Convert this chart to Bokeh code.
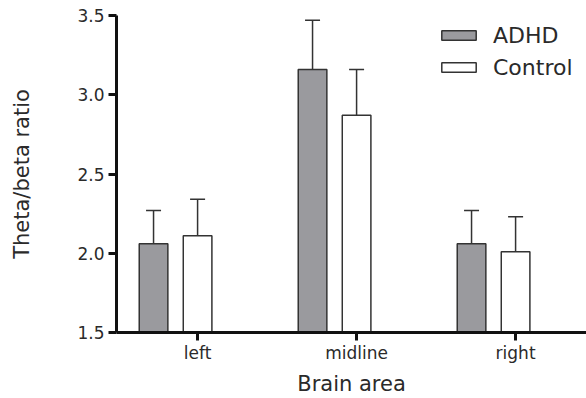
from bokeh.plotting import figure
from bokeh.models import (ColumnDataSource, Range1d, FixedTicker, Whisker, TeeHead,
                          Legend, LegendItem, CustomJSTickFormatter)
from bokeh.embed import file_html
from bokeh.resources import INLINE

categories = ["left", "midline", "right"]
adhd_mean = [2.06, 3.16, 2.06]
adhd_err = [0.21, 0.31, 0.21]
control_mean = [2.11, 2.87, 2.01]
control_err = [0.23, 0.29, 0.22]
y_ticks = [1.5, 2.0, 2.5, 3.0, 3.5]

centers = [i + 0.5 for i in range(len(categories))]
adhd_x = [c - 0.277 for c in centers]
ctrl_x = list(centers)

adhd_src = ColumnDataSource(dict(x=adhd_x, top=adhd_mean,
                                 upper=[m + e for m, e in zip(adhd_mean, adhd_err)],
                                 lower=[m - e for m, e in zip(adhd_mean, adhd_err)]))
ctrl_src = ColumnDataSource(dict(x=ctrl_x, top=control_mean,
                                 upper=[m + e for m, e in zip(control_mean, control_err)],
                                 lower=[m - e for m, e in zip(control_mean, control_err)]))

p = figure(width=586, height=398, output_backend="svg", toolbar_location=None,
           x_range=Range1d(-0.01, 2.946), y_range=Range1d(1.5, 3.5),
           min_border_left=116, min_border_right=0, min_border_top=15, min_border_bottom=66)
p.outline_line_color = None
p.grid.visible = False
p.background_fill_color = "white"

txt = "#2a2a2a"
edge = "#333333"

r1 = p.vbar(x="x", top="top", bottom=1.5, width=0.18, source=adhd_src,
            fill_color="#9a9a9e", line_color=edge, line_width=1.5)
r2 = p.vbar(x="x", top="top", bottom=1.5, width=0.18, source=ctrl_src,
            fill_color="white", line_color=edge, line_width=1.5)

for src in (adhd_src, ctrl_src):
    w = Whisker(base="x", upper="upper", lower="lower", source=src,
                line_color=edge, line_width=1.5,
                upper_head=TeeHead(size=15, line_color=edge, line_width=1.5),
                lower_head=TeeHead(size=15, line_color=edge, line_width=1.5))
    p.add_layout(w)

p.xaxis.ticker = FixedTicker(ticks=centers)
p.xaxis.major_label_overrides = {c: lab for c, lab in zip(centers, categories)}
p.yaxis.ticker = FixedTicker(ticks=y_ticks)
p.yaxis.formatter = CustomJSTickFormatter(code="return tick.toFixed(1);")

for ax in (p.xaxis[0], p.yaxis[0]):
    ax.axis_line_width = 3
    ax.axis_line_color = "#111111"
    ax.major_tick_line_width = 3
    ax.major_tick_line_color = "#111111"
    ax.major_tick_out = 8
    ax.major_tick_in = 0
    ax.minor_tick_line_color = None
    ax.major_label_text_font = "DejaVu Sans"
    ax.major_label_text_font_size = "17px"
    ax.major_label_text_color = txt
    ax.axis_label_text_font = "DejaVu Sans"
    ax.axis_label_text_font_size = "21px"
    ax.axis_label_text_font_style = "normal"
    ax.axis_label_text_color = txt

p.xaxis.axis_label = "Brain area"
p.yaxis.axis_label = "Theta/beta ratio"
p.xaxis.major_label_standoff = 2
p.xaxis.axis_label_standoff = 6
p.yaxis.major_label_standoff = 4
p.yaxis.axis_label_standoff = 40

legend = Legend(items=[LegendItem(label="ADHD", renderers=[r1]),
                       LegendItem(label="Control", renderers=[r2])],
                location=(321, 249), glyph_width=43, glyph_height=12,
                label_height=32, spacing=0, padding=4, margin=0,
                label_standoff=13, border_line_color=None, background_fill_alpha=0,
                label_text_font="DejaVu Sans", label_text_font_size="22px",
                label_text_color=txt)
p.add_layout(legend)

open("out.html", "w").write(file_html(p, INLINE))
